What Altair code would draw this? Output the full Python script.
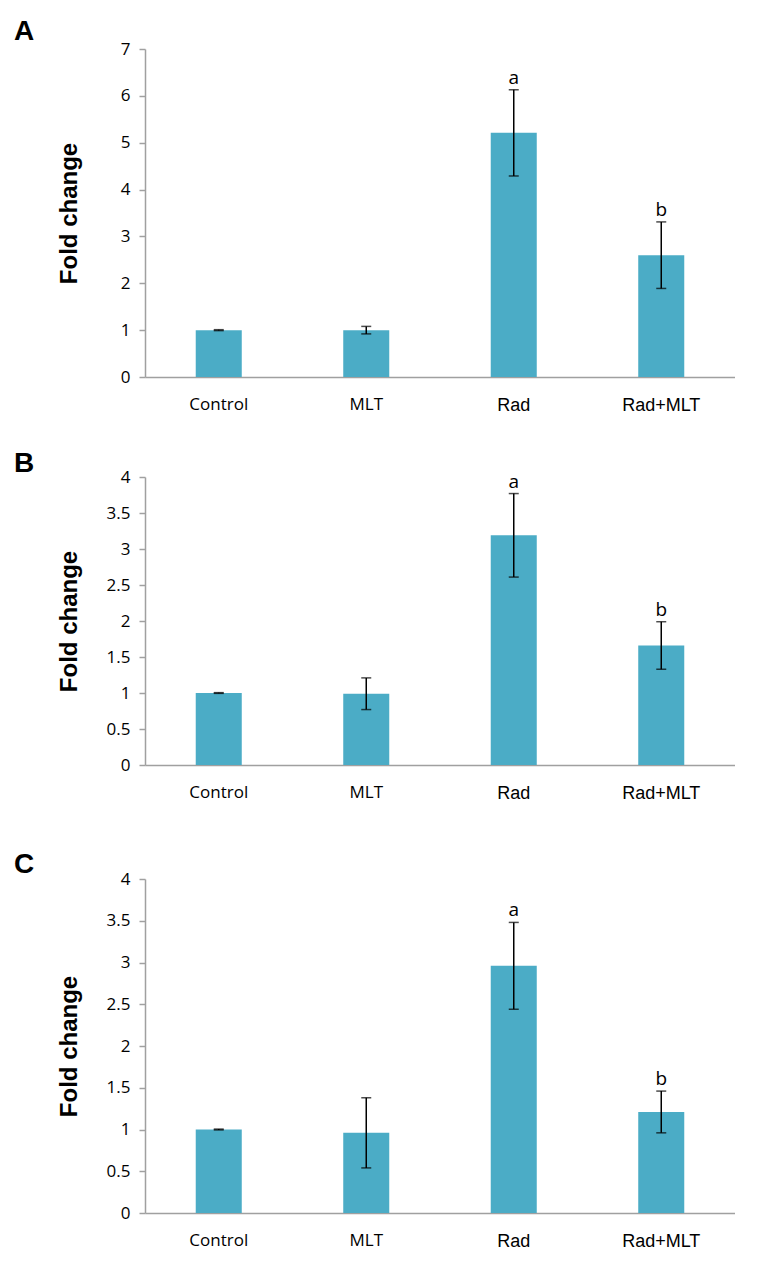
import altair as alt
import pandas as pd

groups = ["Control", "MLT", "Rad", "Rad+MLT"]
sig = ["", "", "a", "b"]

a_mean = [1.00, 1.00, 5.21, 2.60]
a_err = [0.01, 0.08, 0.92, 0.71]
b_mean = [1.00, 0.99, 3.19, 1.66]
b_err = [0.005, 0.22, 0.58, 0.33]
c_mean = [1.00, 0.96, 2.96, 1.21]
c_err = [0.005, 0.42, 0.52, 0.25]

a_ticks = [0, 1, 2, 3, 4, 5, 6, 7]
bc_ticks = [0, 0.5, 1, 1.5, 2, 2.5, 3, 3.5, 4]

W = 590
BAR = "#4bacc6"
AX = "#a0a0a0"
TITLE = "Fold change"


def panel(letter, letter_y, means, errs, ymax, ticks, H, top, bottom):
    df = pd.DataFrame({
        "group": groups,
        "mean": means,
        "lo": [m - e for m, e in zip(means, errs)],
        "hi": [m + e for m, e in zip(means, errs)],
        "sig": sig,
    })
    yscale = alt.Scale(domain=[0, ymax], nice=False, zero=True)
    x = alt.X(
        "group:N", sort=groups, title=None,
        scale=alt.Scale(paddingInner=0.688, paddingOuter=0.344),
        axis=alt.Axis(
            labelAngle=0, ticks=False, tickSize=0, labelPadding=19,
            domainColor=AX, domainWidth=1.5, labelColor="black",
            labelFont={"condition": {"test": "datum.value == 'Rad' || datum.value == 'Rad+MLT'", "value": "Liberation Sans"}, "value": "Open Sans"},
            labelFontSize={"condition": {"test": "datum.value == 'Rad' || datum.value == 'Rad+MLT'", "value": 18}, "value": 17},
        ),
    )
    yaxis = alt.Axis(
        values=ticks, tickCount=len(ticks), format="~g", grid=False, labelOverlap=False,
        domainColor=AX, domainWidth=1.5, tickColor=AX, tickWidth=1.5, tickSize=6,
        labelFont="Open Sans", labelFontSize=17, labelColor="black", labelPadding=9,
        titleFont="Liberation Sans", titleFontWeight="bold", titleFontSize=24,
        titleColor="black", titleX=-69, titleBaseline="alphabetic",
        titleAngle=270,
    )
    y = alt.Y("mean:Q", title=TITLE, scale=yscale, axis=yaxis)
    base = alt.Chart(df)
    bars = base.mark_bar(color=BAR).encode(x=x, y=y)
    xs = alt.X("group:N", sort=groups)
    rules = base.mark_rule(color="black", strokeWidth=1.5).encode(
        x=xs, y=alt.Y("lo:Q", title=TITLE, scale=yscale, axis=yaxis), y2="hi:Q")
    cap_hi = base.mark_tick(color="black", size=10, thickness=1.5).encode(
        x=xs, y=alt.Y("hi:Q", title=TITLE, scale=yscale, axis=yaxis))
    cap_lo = base.mark_tick(color="black", size=10, thickness=1.5).encode(
        x=xs, y=alt.Y("lo:Q", title=TITLE, scale=yscale, axis=yaxis))
    labels = base.mark_text(dy=-12, fontSize=19, font="Open Sans", baseline="middle", color="black").encode(
        x=xs, y=alt.Y("hi:Q", title=TITLE, scale=yscale, axis=yaxis), text="sig:N")
    one = pd.DataFrame({"t": [letter]})
    letter_mark = alt.Chart(one).mark_text(
        align="left", baseline="alphabetic", font="Liberation Sans",
        fontWeight="bold", fontSize=28, color="black",
    ).encode(x=alt.value(-131), y=alt.value(letter_y), text="t:N")
    frame_top = alt.Chart(one).mark_rule(strokeOpacity=0, strokeWidth=1).encode(
        x=alt.value(-137), x2=alt.value(W), y=alt.value(-top))
    frame_bot = alt.Chart(one).mark_rule(strokeOpacity=0, strokeWidth=1).encode(
        x=alt.value(-137), x2=alt.value(W), y=alt.value(H + bottom))
    return alt.layer(bars, rules, cap_hi, cap_lo, labels, letter_mark, frame_top, frame_bot).properties(
        width=W, height=H)


pa = panel("A", -9, a_mean, a_err, 7, a_ticks, 328, 41, 60)
pb = panel("B", -5, b_mean, b_err, 4, bc_ticks, 288, 40, 74)
pc = panel("C", -6, c_mean, c_err, 4, bc_ticks, 334, 40, 40)

chart = alt.vconcat(pa, pb, pc, spacing=0).properties(padding=0).configure_view(stroke=None)

chart.save("out.html", embed_options={"renderer": "svg", "actions": False})
